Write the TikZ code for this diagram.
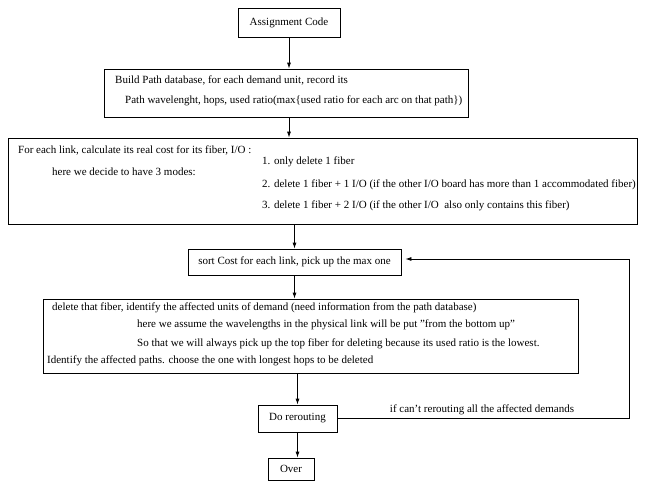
\documentclass[tikz,border=0pt]{standalone}
\usepackage{fontspec}
\setmainfont{Liberation Serif}
\usepackage{tikz}
\usetikzlibrary{arrows.meta,positioning,calc}

\begin{document}
\begin{tikzpicture}[x=1pt,y=-1pt,font=\fontsize{11}{13}\selectfont,
  stepbox/.style={draw,thick,inner sep=0pt,align=center},
  txt/.style={anchor=west,inner sep=0pt},
  arr/.style={-{Latex[length=6pt,width=4pt]},thick}]
\useasboundingbox (0,0) rectangle (646,501);
% boxes
\node[stepbox,minimum width=102,minimum height=29] (code) at (289,22.5) {Assignment Code};
\node[stepbox,minimum width=364,minimum height=48] (build) at (286,93) {};
\node[stepbox,minimum width=629,minimum height=86] (cost) at (322.5,181) {};
\node[stepbox,minimum width=213,minimum height=26] (sort) at (294.5,262) {sort Cost for each link, pick up the max one};
\node[stepbox,minimum width=535,minimum height=74] (del) at (310.5,336) {};
\node[stepbox,minimum width=79,minimum height=27] (reroute) at (297.5,418.5) {Do rerouting};
\node[stepbox,minimum width=46,minimum height=22] (over) at (291,469) {Over};
% texts inside the big boxes
\node[txt] (b1) at (115,80) {Build Path database, for each demand unit, record its};
\node[txt] (b2) at (125,101) {Path wavelenght, hops, used ratio(max\{used ratio for each arc on that path\})};
\node[txt] (c0) at (18,150) {For each link, calculate its real cost for its fiber, I/O :};
\node[txt] (c1) at (52,172) {here we decide to have 3 modes:};
\foreach \m/\yy [count=\i] in {{only delete 1 fiber}/162,
   {delete 1 fiber + 1 I/O (if the other I/O board has more than 1 accommodated fiber)}/185,
   {delete 1 fiber + 2 I/O (if the other I/O\ \ also only contains this fiber)}/206}
   \node[txt] (mode\i) at (262,\yy) {\i. \m};
\node[txt] (d1) at (52,308) {delete that fiber, identify the affected units of demand (need information from the path database)};
\node[txt] (d2) at (137,325) {here we assume the wavelengths in the physical link will be put "from the bottom up"};
\node[txt] (d3) at (137,344) {So that we will always pick up the top fiber for deleting because its used ratio is the lowest.};
\node[txt] (d4) at (47,361) {Identify the affected paths. choose the one with longest hops to be deleted};
% arrows
\draw[arr] (code.south) -- (code.south |- build.north);
\draw[arr] (code.south |- build.south) -- (code.south |- cost.north);
\draw[arr] (sort.north |- cost.south) -- (sort.north);
\draw[arr] (sort.south) -- (sort.south |- del.north);
\draw[arr] (reroute.north |- del.south) -- (reroute.north);
\draw[arr] (reroute.south) -- (reroute.south |- over.north);
\coordinate (turn) at (629,259);
\draw[arr,shorten >=4pt] (reroute.east) -| (turn) -- (sort.east |- turn);
\node (fail) at (482,410) {if can’t rerouting all the affected demands};
\end{tikzpicture}
\end{document}
